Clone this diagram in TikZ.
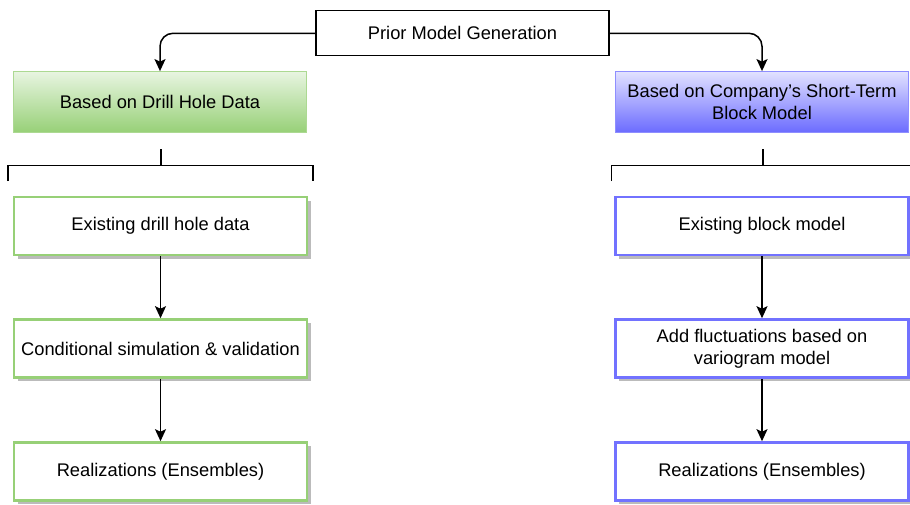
\documentclass[tikz,border=0pt]{standalone}
\usepackage{fontspec}
\setmainfont{Liberation Sans}
\usetikzlibrary{arrows.meta,shadows}
\definecolor{gstroke}{HTML}{97D077}
\definecolor{bstroke}{HTML}{7272FF}
\definecolor{gtop}{HTML}{E8F5E1}
\definecolor{gbot}{HTML}{97D077}
\definecolor{btop}{HTML}{E2E2FF}
\definecolor{bbot}{HTML}{6B6BFF}
\definecolor{shade}{HTML}{BBBBBB}
\tikzset{
  base/.style={rectangle, minimum width=293pt, inner sep=2pt, align=center,
    font=\fontsize{18.3}{22}\selectfont},
  topbox/.style={base, draw=black, line width=1.3pt, fill=white, minimum height=45pt},
  ghead/.style={base, draw=gstroke!80, line width=0.8pt, top color=gtop, bottom color=gbot, minimum height=61pt},
  bhead/.style={base, draw=bstroke!80, line width=0.8pt, top color=btop, bottom color=bbot, minimum height=61pt},
  gbox/.style={base, draw=gstroke, line width=2.6pt, fill=white, minimum height=58pt,
    drop shadow={shadow xshift=3.5pt, shadow yshift=-3.5pt, fill=shade, opacity=1}},
  bbox/.style={base, draw=bstroke, line width=2.6pt, fill=white, minimum height=58pt,
    drop shadow={shadow xshift=3.5pt, shadow yshift=-3.5pt, fill=shade, opacity=1}},
  conn/.style={draw=black, line width=1.5pt, -{Stealth[length=12pt,width=11pt,inset=2.5pt]}},
  bracketline/.style={draw=black, line width=1.2pt}
}
\begin{document}
\begin{tikzpicture}[x=1pt,y=-1pt]
\clip (0,0) rectangle (910,504);
\fill[white] (0,0) rectangle (910,504);

\node[topbox] (top) at (462.5,33.3) {Prior Model Generation};

\node[ghead] (lh) at (160,102) {Based on Drill Hole Data};
\node[bhead] (rh) at (762,102) {Based on Company's Short-Term\\Block Model};

\draw[conn, rounded corners=13pt] (top.west) -| (lh.north);
\draw[conn, rounded corners=13pt] (top.east) -| (rh.north);

% brackets
\coordinate (lbt) at (161,149);
\coordinate (lbm) at (161,165.5);
\coordinate (lbl) at (8,181);
\coordinate (lbr) at (313,181);
\draw[bracketline] (lbt) -- (lbm);
\draw[bracketline] (lbl) |- (lbm) -| (lbr);

\coordinate (rbt) at (763,149);
\coordinate (rbm) at (763,165.5);
\coordinate (rbl) at (611.5,181);
\coordinate (rbr) at (916,181);
\draw[bracketline] (rbt) -- (rbm);
\draw[bracketline] (rbl) |- (rbm) -| (rbr);

% left column
\node[gbox] (l1) at (160.5,226) {Existing drill hole data};
\node[gbox] (l2) at (160.5,348.5) {Conditional simulation \& validation};
\node[gbox] (l3) at (160.5,471.5) {Realizations (Ensembles)};

% right column
\node[bbox] (r1) at (762,226) {Existing block model};
\node[bbox] (r2) at (762,348.5) {Add fluctuations based on\\variogram model};
\node[bbox] (r3) at (762,471.5) {Realizations (Ensembles)};

\draw[conn] (l1) -- (l2);
\draw[conn] (l2) -- (l3);
\draw[conn] (r1) -- (r2);
\draw[conn] (r2) -- (r3);
\end{tikzpicture}
\end{document}
